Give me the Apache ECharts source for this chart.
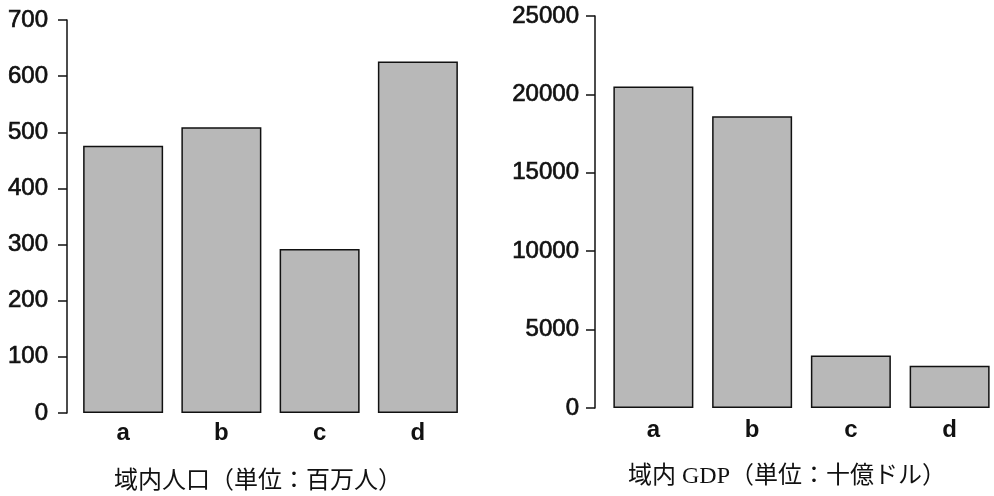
<!DOCTYPE html>
<html><head><meta charset="utf-8">
<script src="https://cdn.jsdelivr.net/npm/echarts@6/dist/echarts.min.js"></script>
<style>html,body{margin:0;padding:0;background:#fff;overflow:hidden}#c{width:1004px;height:496px}</style>
</head><body><div id="c"></div>
<script>
const categories = ['a', 'b', 'c', 'd'];
const populationValues = [476, 509, 292, 626];
const gdpValues = [20500, 18600, 3350, 2700];
const popTitle = '域内人口（単位：百万人）';
const gdpTitle = '域内 GDP（単位：十億ドル）';

const chart = echarts.init(document.getElementById('c'), null, {renderer: 'canvas'});
function yAxis(gridIndex, max, interval, offset, margin) {
  return {
    type: 'value', gridIndex, min: 0, max, interval, offset,
    axisLine: {show: true, lineStyle: {color: '#111', width: 1.5}},
    axisTick: {show: true, length: 9, lineStyle: {color: '#111', width: 1.5}},
    axisLabel: {
      margin, fontFamily: 'Liberation Sans, Arial, sans-serif', fontSize: 24, color: '#111',
      textBorderColor: '#111', textBorderWidth: 0.7,
      formatter: v => String(v)
    },
    splitLine: {show: false}
  };
}
function xAxis(gridIndex, margin) {
  return {
    type: 'category', gridIndex, data: categories,
    axisLine: {show: false}, axisTick: {show: false},
    axisLabel: {margin, fontFamily: 'Liberation Sans, Arial, sans-serif', fontSize: 24, fontWeight: 'bold', color: '#111'}
  };
}
const barStyle = {color: '#b8b8b8', borderColor: '#111', borderWidth: 1.5};
chart.setOption({
  animation: false,
  backgroundColor: '#fff',
  grid: [
    {left: 74, top: 20, width: 393, height: 393},
    {left: 604, top: 16, width: 395, height: 392}
  ],
  xAxis: [xAxis(0, 8), xAxis(1, 10)],
  yAxis: [yAxis(0, 700, 100, 7, 19), yAxis(1, 25000, 5000, 9, 16)],
  series: [
    {type: 'bar', xAxisIndex: 0, yAxisIndex: 0, data: populationValues, barWidth: 80, itemStyle: barStyle},
    {type: 'bar', xAxisIndex: 1, yAxisIndex: 1, data: gdpValues, barWidth: 80, itemStyle: barStyle}
  ],
  graphic: [
    {type: 'text', x: 258, y: 482, style: {text: popTitle, fill: '#111', font: '24px "Liberation Serif", "Noto Sans CJK JP", serif', textAlign: 'center', textVerticalAlign: 'middle'}},
    {type: 'text', x: 787, y: 477, style: {text: gdpTitle, fill: '#111', font: '24px "Liberation Serif", "Noto Sans CJK JP", serif', textAlign: 'center', textVerticalAlign: 'middle'}}
  ]
});
</script></body></html>
